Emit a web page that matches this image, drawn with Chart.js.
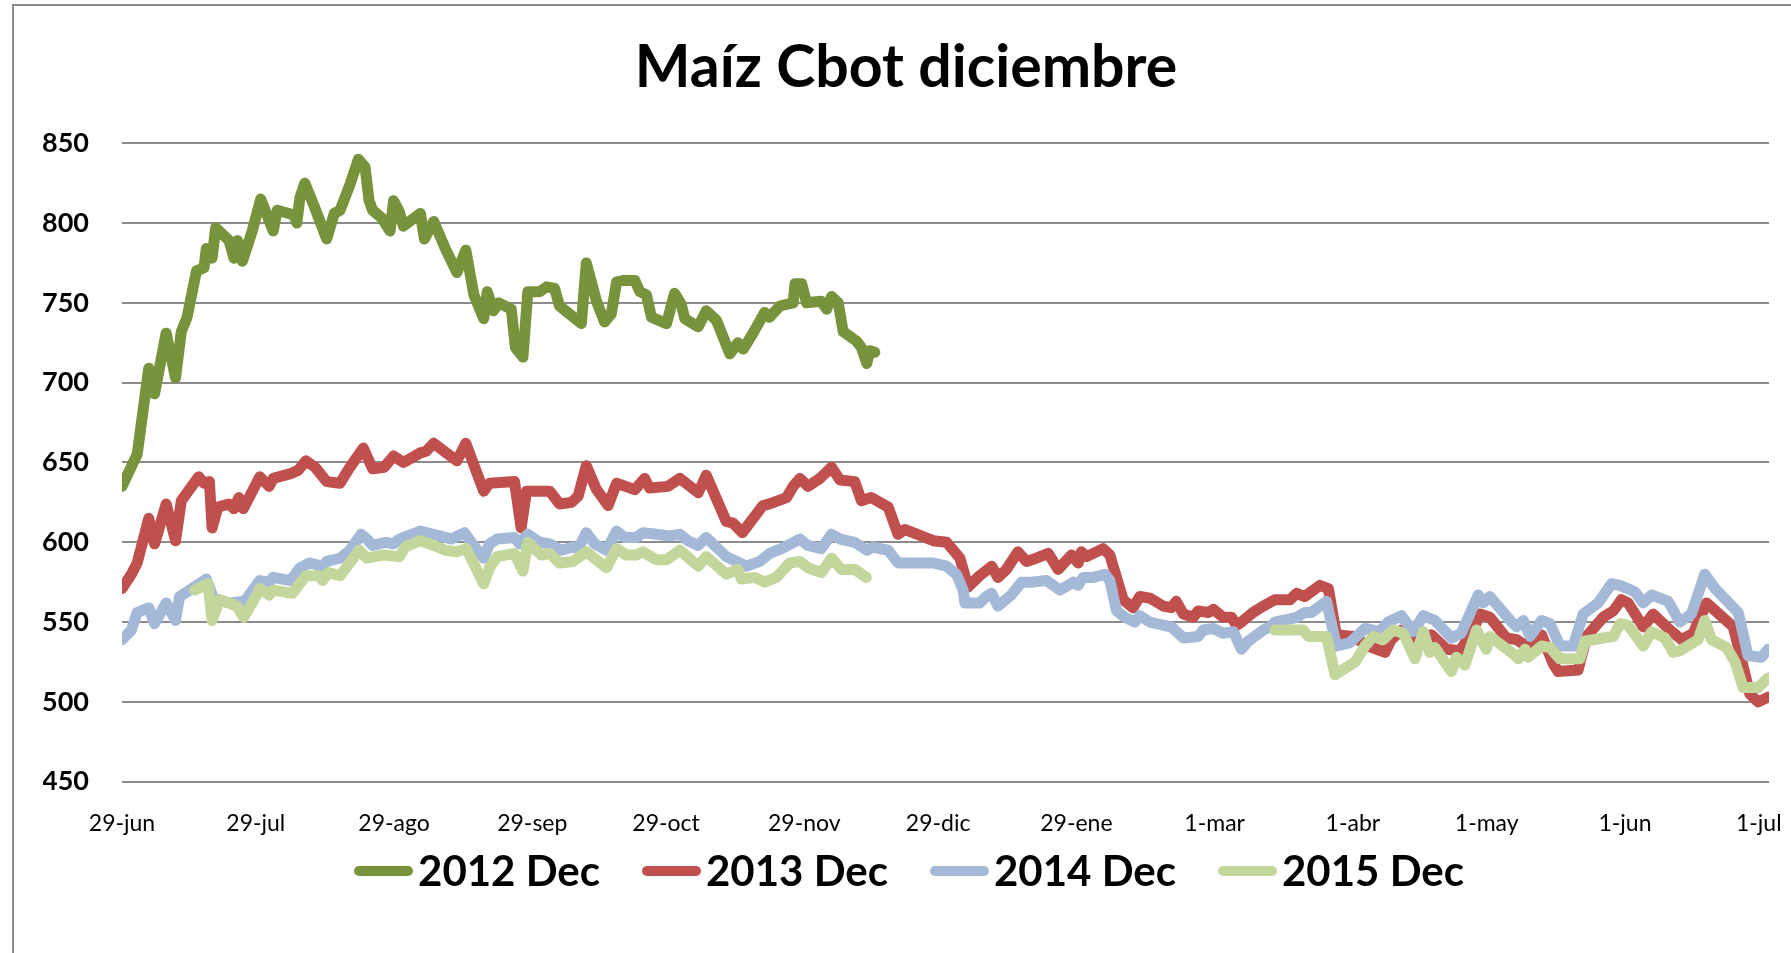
<!DOCTYPE html>
<html>
<head>
<meta charset="utf-8">
<script src="https://cdn.jsdelivr.net/npm/chart.js@4.4.1/dist/chart.umd.min.js"></script>
<style>
  html, body { margin: 0; padding: 0; background: #ffffff; }
  #wrap { width: 1791px; height: 953px; }
</style>
</head>
<body>
<div id="wrap"><canvas id="c" width="1791" height="953"></canvas></div>
<script>
// ---- Data (x = days since 29-jun, y = cents/bushel) ----
const tickDays = [0, 30, 61, 92, 122, 153, 183, 214, 245, 276, 306, 337, 367];
const tickLabels = ['29-jun', '29-jul', '29-ago', '29-sep', '29-oct', '29-nov', '29-dic', '29-ene', '1-mar', '1-abr', '1-may', '1-jun', '1-jul'];
const seriesNames = ['2012 Dec', '2013 Dec', '2014 Dec', '2015 Dec'];

const days2012 = [0, 3.4, 6, 7.3, 9.9, 12, 13.3, 14.6, 16.7, 18.4, 18.9, 20.2, 21, 24, 25.1, 25.9, 27, 29.2, 31.1, 33.9, 34.8, 38.6, 39.2, 39.9, 41, 43.3, 45.9, 47.6, 48.9, 51.1, 53, 54.5, 55.4, 56.2, 58.3, 60.1, 60.9, 62.2, 63.1, 66.9, 67.8, 69.9, 72.5, 75.1, 77.1, 78.9, 81.1, 81.9, 83.3, 84.5, 87.3, 88.2, 89.9, 91, 93.7, 95.2, 97, 98.1, 100.8, 103, 104.1, 106.4, 108.2, 109.7, 110.9, 112.3, 115, 116.1, 117.6, 118.7, 122.1, 123.9, 125.4, 126.2, 129.2, 131, 133.3, 136.3, 138.1, 139.3, 141.5, 144.1, 145.2, 147.5, 150.5, 150.9, 152.4, 153.5, 156.8, 158, 159.1, 160.6, 161.7, 164.7, 165.8, 167, 167.7, 168.8];
const vals2012 = [635, 655, 709, 693, 731, 703, 732, 741, 770, 772, 784, 778, 797, 789, 778, 789, 776, 795, 815, 795, 808, 805, 800, 816, 825, 809, 790, 806, 808, 824, 840, 835, 814, 808, 803, 795, 814, 807, 798, 806, 790, 801, 784, 769, 783, 755, 740, 757, 745, 750, 746, 722, 716, 757, 757, 760, 759, 748, 742, 737, 775, 751, 738, 743, 763, 764, 764, 757, 755, 741, 737, 756, 749, 740, 735, 745, 739, 718, 725, 721, 731, 744, 741, 748, 750, 762, 762, 750, 751, 746, 754, 750, 732, 726, 722, 712, 720, 719];

const days2013 = [0, 2.1, 3.4, 6, 7.3, 9.9, 12, 13.3, 17.2, 18.4, 19.6, 20.2, 21.5, 24, 25.1, 26.2, 27.2, 30.9, 33, 33.9, 37.8, 39.5, 41.2, 43.3, 45.9, 48.9, 51.1, 54.1, 56.2, 58.8, 60.9, 63.1, 66.9, 68.2, 69.9, 75.1, 77.1, 81.1, 82.4, 88, 89.5, 90.7, 95.9, 98.1, 100.8, 102.3, 104.1, 106.4, 109, 110.9, 115, 117.2, 118.3, 122.4, 125.1, 129.2, 131, 135.5, 137, 139.1, 143.7, 145.2, 149, 150.5, 152, 153.8, 156.5, 159.1, 161, 164.3, 165.8, 168, 171.8, 174, 175.5, 181.9, 184.9, 187.9, 189.7, 192.3, 195, 196.4, 198.3, 200.9, 202.8, 205, 207.7, 209.9, 212.9, 214.4, 215.1, 216.3, 220, 221.5, 224.5, 226.7, 228.2, 230.5, 233.5, 235.3, 236.4, 238, 240.2, 241.3, 243.6, 244.7, 246.9, 248.8, 249.9, 251, 253.6, 255.9, 258.5, 261.9, 263.4, 265.2, 268.6, 270.5, 272.3, 276.1, 279.4, 283.2, 284.6, 286.9, 290.3, 293.6, 297, 300, 302.6, 304.5, 306.7, 310.4, 312.7, 314.9, 318.3, 320.9, 322, 326.5, 328.4, 332.1, 334.4, 336.2, 337.7, 341.1, 343.3, 347.1, 349.7, 352.3, 355.3, 361.3, 365, 366.9, 369.1];
const vals2013 = [571, 580, 587, 615, 599, 624, 601, 626, 641, 637, 638, 609, 622, 624, 621, 628, 621, 641, 635, 640, 643, 645, 651, 647, 638, 637, 647, 659, 646, 647, 654, 650, 656, 657, 662, 651, 662, 632, 637, 638, 609, 632, 632, 624, 625, 629, 648, 633, 623, 637, 633, 640, 634, 635, 640, 631, 642, 613, 612, 606, 623, 624, 628, 635, 640, 635, 640, 647, 639, 638, 626, 628, 622, 605, 608, 601, 600, 590, 572, 579, 585, 578, 583, 594, 588, 590, 593, 583, 592, 587, 594, 591, 596, 592, 564, 559, 566, 565, 560, 559, 563, 555, 553, 557, 556, 558, 553, 553, 548, 550, 556, 560, 564, 564, 568, 566, 573, 571, 542, 541, 535, 531, 539, 545, 539, 542, 533, 532, 543, 555, 553, 540, 539, 535, 542, 524, 519, 520, 541, 553, 557, 564, 562, 547, 555, 545, 539, 543, 562, 547, 505, 500, 503];

const days2014 = [0, 2.1, 3.4, 6, 7.3, 9.9, 12, 12.9, 14.6, 18.9, 20.5, 24, 27.5, 30.9, 33, 33.9, 37.8, 39.9, 42, 45, 45.9, 48.9, 51.1, 53.6, 54.9, 56.2, 59.2, 60.9, 62.2, 66.9, 71.2, 73.8, 76.8, 78.9, 81.1, 82.4, 84.1, 88, 89.2, 91, 93.7, 95.9, 98.5, 101.1, 102.3, 104.1, 106, 108.6, 110.9, 112.7, 115.3, 116.8, 119.8, 122.8, 125.1, 126.9, 129.2, 131, 135.5, 137.8, 140, 143, 145.2, 147.9, 152, 153.8, 156.8, 159.1, 161, 164.3, 167, 168.4, 171.8, 174, 175.9, 181.9, 184.9, 187.1, 188.6, 189, 192.3, 193.8, 195, 196.4, 199.4, 201.7, 203.9, 207.3, 210.3, 213.3, 214.4, 215.5, 217.8, 220.4, 221.5, 223, 224.9, 227.1, 228.2, 230.5, 233.5, 235.3, 238, 241.3, 242.4, 244.7, 246.9, 249.2, 251, 252.5, 255.9, 257.4, 258.5, 261.9, 263.4, 265.2, 266.7, 268.6, 270.1, 272.3, 275.3, 278.7, 282, 283.9, 286.9, 289.5, 291.8, 294.4, 298.1, 300.3, 304.1, 305.2, 306.7, 311.6, 312.7, 314.2, 315.7, 318.3, 320.2, 322.4, 325.4, 327.6, 331, 334, 335.9, 339.2, 341.1, 343, 346.7, 349.3, 351.9, 354.9, 357.2, 362.4, 364.6, 367.6, 369.1];
const vals2014 = [539, 545, 556, 559, 549, 562, 551, 566, 569, 577, 565, 562, 563, 576, 575, 578, 576, 584, 587, 585, 588, 590, 595, 605, 602, 598, 600, 599, 602, 607, 604, 602, 606, 598, 590, 599, 602, 603, 599, 605, 600, 599, 595, 597, 596, 606, 599, 595, 607, 603, 603, 606, 605, 604, 605, 601, 598, 603, 591, 588, 585, 588, 593, 596, 602, 598, 596, 605, 602, 600, 595, 597, 595, 587, 587, 587, 585, 580, 570, 562, 562, 566, 568, 560, 567, 575, 575, 576, 570, 575, 573, 578, 578, 580, 576, 557, 553, 550, 554, 550, 548, 547, 540, 541, 545, 546, 543, 544, 533, 538, 545, 547, 550, 552, 553, 556, 556, 560, 563, 535, 537, 546, 544, 550, 554, 544, 554, 551, 540, 543, 567, 562, 566, 550, 547, 551, 541, 551, 549, 535, 535, 555, 562, 574, 573, 569, 562, 567, 563, 550, 555, 580, 571, 556, 529, 528, 533];

const days2015 = [16.3, 19.3, 20.2, 21.9, 24, 25.7, 27.3, 29.6, 30.9, 33, 33.9, 38.2, 41.2, 44.2, 45, 46.3, 48.9, 53.2, 54.9, 58.4, 62.2, 63.5, 66.9, 69.9, 72.5, 75.1, 77.2, 81.1, 82.4, 84.1, 88, 89.9, 91, 94, 95.9, 98.1, 101.1, 104.1, 106.4, 108.6, 110.9, 113.1, 115.3, 116.8, 119.8, 122.1, 125.1, 129.2, 131, 135.5, 138.1, 138.9, 141.9, 144.1, 146.7, 149.7, 152, 153.8, 156.8, 159.1, 161.3, 164.3, 166.9, 210, 258.5, 264.9, 266, 270.1, 272, 276.5, 278.7, 280.6, 282.8, 285, 287.3, 289.9, 291.8, 293.2, 294.4, 298.1, 299.2, 301.1, 303.7, 305.9, 306.7, 312, 313.1, 314.6, 315.3, 318.3, 320.2, 322.4, 326.9, 328, 332.1, 334.4, 335.9, 337.7, 341.1, 343, 346, 347.8, 349.3, 353.4, 354.9, 356.4, 359.8, 361.7, 363.5, 366.9, 369.1];
const vals2015 = [570, 574, 551, 564, 562, 560, 553, 564, 571, 567, 570, 568, 579, 579, 576, 581, 579, 595, 590, 592, 591, 597, 601, 598, 595, 594, 596, 574, 584, 591, 593, 582, 600, 592, 593, 587, 588, 594, 589, 584, 596, 592, 592, 594, 589, 589, 595, 585, 591, 580, 583, 577, 578, 575, 578, 587, 588, 584, 581, 590, 583, 583, 578, null, 545, 545, 541, 541, 517, 525, 535, 541, 539, 545, 543, 527, 544, 531, 534, 519, 528, 523, 545, 533, 541, 530, 527, 533, 528, 535, 534, 527, 527, 538, 540, 541, 549, 548, 535, 544, 540, 531, 532, 539, 551, 539, 534, 525, 509, 509, 515];

const seriesColors = ['#77933C', '#C0504D', '#A4B8D7', '#C3D69B'];

// ---- Build datasets ----
function pts(ds, vs) { return ds.map((d, i) => ({ x: d, y: vs[i] })); }
const allDays = [days2012, days2013, days2014, days2015];
const allVals = [vals2012, vals2013, vals2014, vals2015];
const datasets = seriesNames.map((name, i) => ({
  label: name,
  data: pts(allDays[i], allVals[i]),
  borderColor: seriesColors[i],
  backgroundColor: seriesColors[i],
  borderWidth: 11,
  pointRadius: 0,
  tension: 0,
  spanGaps: false,
  borderJoinStyle: 'round',
  borderCapStyle: 'round',
  order: 4 - i
}));

const FONT = 'Lato, "Open Sans", sans-serif';

const framePlugin = {
  id: 'frame',
  beforeDraw(chart) {
    const ctx = chart.ctx;
    ctx.save();
    ctx.fillStyle = '#ffffff';
    ctx.fillRect(0, 0, chart.width, chart.height);
    ctx.strokeStyle = '#8c8c8c';
    ctx.lineWidth = 2;
    ctx.strokeRect(13, 5, chart.width + 40, chart.height + 40);
    ctx.restore();
  }
};

const legendPlugin = {
  id: 'customLegend',
  afterDraw(chart) {
    const ctx = chart.ctx;
    ctx.save();
    ctx.font = 'bold 42px ' + FONT;
    ctx.textBaseline = 'middle';
    ctx.textAlign = 'left';
    const lineLen = 49, lineW = 10, textGap = 5, itemGap = 42;
    const widths = seriesNames.map(n => lineLen + lineW + textGap + ctx.measureText(n).width);
    const total = widths.reduce((a, b) => a + b, 0) + itemGap * (seriesNames.length - 1);
    let x = 909 - total / 2;
    const y = 871;
    seriesNames.forEach((n, i) => {
      ctx.strokeStyle = seriesColors[i];
      ctx.lineWidth = lineW;
      ctx.lineCap = 'round';
      ctx.beginPath();
      ctx.moveTo(x + lineW / 2, y);
      ctx.lineTo(x + lineW / 2 + lineLen, y);
      ctx.stroke();
      ctx.fillStyle = '#000000';
      ctx.fillText(n, x + lineLen + lineW + textGap, y + 1);
      x += widths[i] + itemGap;
    });
    ctx.restore();
  }
};

new Chart(document.getElementById('c'), {
  type: 'line',
  data: { datasets },
  plugins: [framePlugin, legendPlugin],
  options: {
    responsive: false,
    animation: false,
    devicePixelRatio: 1,
    layout: { padding: { left: 43, right: 22, top: 0, bottom: 111.3 } },
    plugins: {
      legend: { display: false },
      tooltip: { enabled: false },
      title: {
        display: true,
        text: 'Maíz Cbot diciembre',
        color: '#000000',
        font: { family: FONT, size: 59, weight: 'bold' },
        padding: { top: 33, bottom: 39.4 }
      }
    },
    scales: {
      x: {
        type: 'linear',
        min: 0,
        max: 369.3,
        grid: { display: false, drawTicks: false },
        border: { display: false },
        afterBuildTicks(scale) { scale.ticks = tickDays.map(v => ({ value: v })); },
        afterFit(scale) { scale.height = 60; scale.paddingLeft = 0; scale.paddingRight = 0; },
        ticks: {
          autoSkip: false,
          maxRotation: 0,
          padding: 28,
          color: '#000000',
          font: { family: FONT, size: 23 },
          callback: (value, index) => tickLabels[index]
        }
      },
      y: {
        min: 450,
        max: 850,
        grid: { color: '#8c8c8c', lineWidth: 2, drawTicks: false },
        border: { display: false },
        afterFit(scale) { scale.width = 79; scale.paddingTop = 0; scale.paddingBottom = 0; },
        ticks: {
          stepSize: 50,
          padding: 33,
          color: '#000000',
          font: { family: FONT, size: 27, weight: 'bold' }
        }
      }
    }
  }
});
</script>
</body>
</html>
